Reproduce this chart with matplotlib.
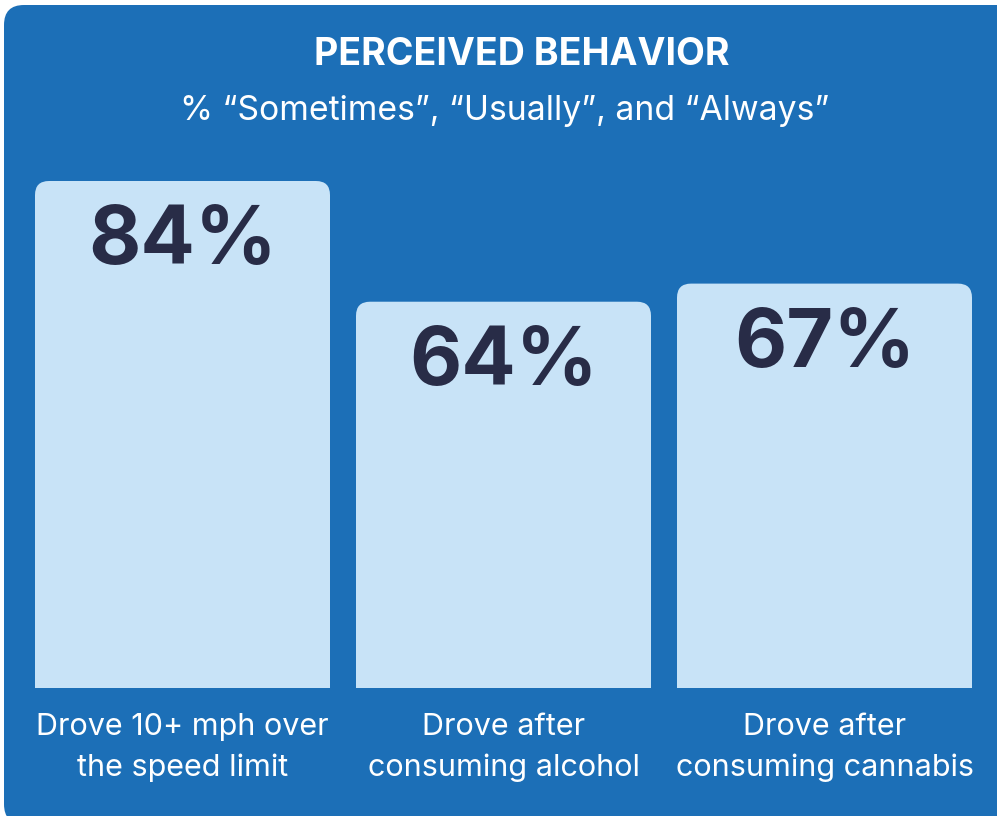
import numpy as np
import matplotlib
matplotlib.use("Agg")
import matplotlib.pyplot as plt
from matplotlib.patches import FancyBboxPatch

# chart data
categories = ["Drove 10+ mph over\nthe speed limit",
              "Drove after\nconsuming alcohol",
              "Drove after\nconsuming cannabis"]
values = [84, 64, 67]
value_labels = ["84%", "64%", "67%"]
title = "PERCEIVED BEHAVIOR"
subtitle = "% \u201cSometimes\u201d, \u201cUsually\u201d, and \u201cAlways\u201d"

card_blue = "#1c6fb7"
bar_blue = "#c8e3f7"
navy = "#282c47"

plt.rcParams['font.family'] = ['Inter', 'DejaVu Sans']

W, H = 997, 816
fig = plt.figure(figsize=(W / 100, H / 100), dpi=100, facecolor="white")

# rounded blue card behind everything
card = FancyBboxPatch((4 / W, -0.01), 1.05, 1 - 5 / H + 0.01,
                      boxstyle="round,pad=0,rounding_size=0.02",
                      mutation_aspect=W / H,
                      transform=fig.transFigure, facecolor=card_blue,
                      edgecolor="none", zorder=-5)
fig.patches.append(card)

fig.text(522 / W, 1 - 65 / H, title, color="white", fontsize=27,
         fontweight="bold", ha="center", va="baseline")
fig.text(505 / W, 1 - 120 / H, subtitle, color="white", fontsize=24.3,
         ha="center", va="baseline")

# axes: baseline at px 688, 6.036 px per percent, 321 px between bars
px_per_unit = 507 / 84
step = 321
ax_top_px = 160
ax = fig.add_axes([0, (H - 688) / H, 1, (688 - ax_top_px) / H])
ax.set_xlim(-182.5 / step, (W - 182.5) / step)
ax.set_ylim(0, (688 - ax_top_px) / px_per_unit)
ax.axis("off")
ax.patch.set_alpha(0)

x = np.arange(len(values))
bw = 295 / step
rad = 14 / step
asp = (1 / px_per_unit) / (1 / step)
for xi, v, lab, cat in zip(x, values, value_labels, categories):
    p = FancyBboxPatch((xi - bw / 2, -10), bw, v + 10,
                       boxstyle=f"round,pad=0,rounding_size={rad}",
                       mutation_aspect=asp, facecolor=bar_blue,
                       edgecolor="none")
    ax.add_patch(p)
    ax.text(xi, v - 13.8, lab, ha="center", va="baseline", color=navy,
            fontsize=58, fontweight="bold")
    ax.text(xi, -9.8, cat, ha="center", va="center", color="white",
            fontsize=22, linespacing=1.55, clip_on=False)

fig.savefig("out.png", dpi=100, facecolor="white")
